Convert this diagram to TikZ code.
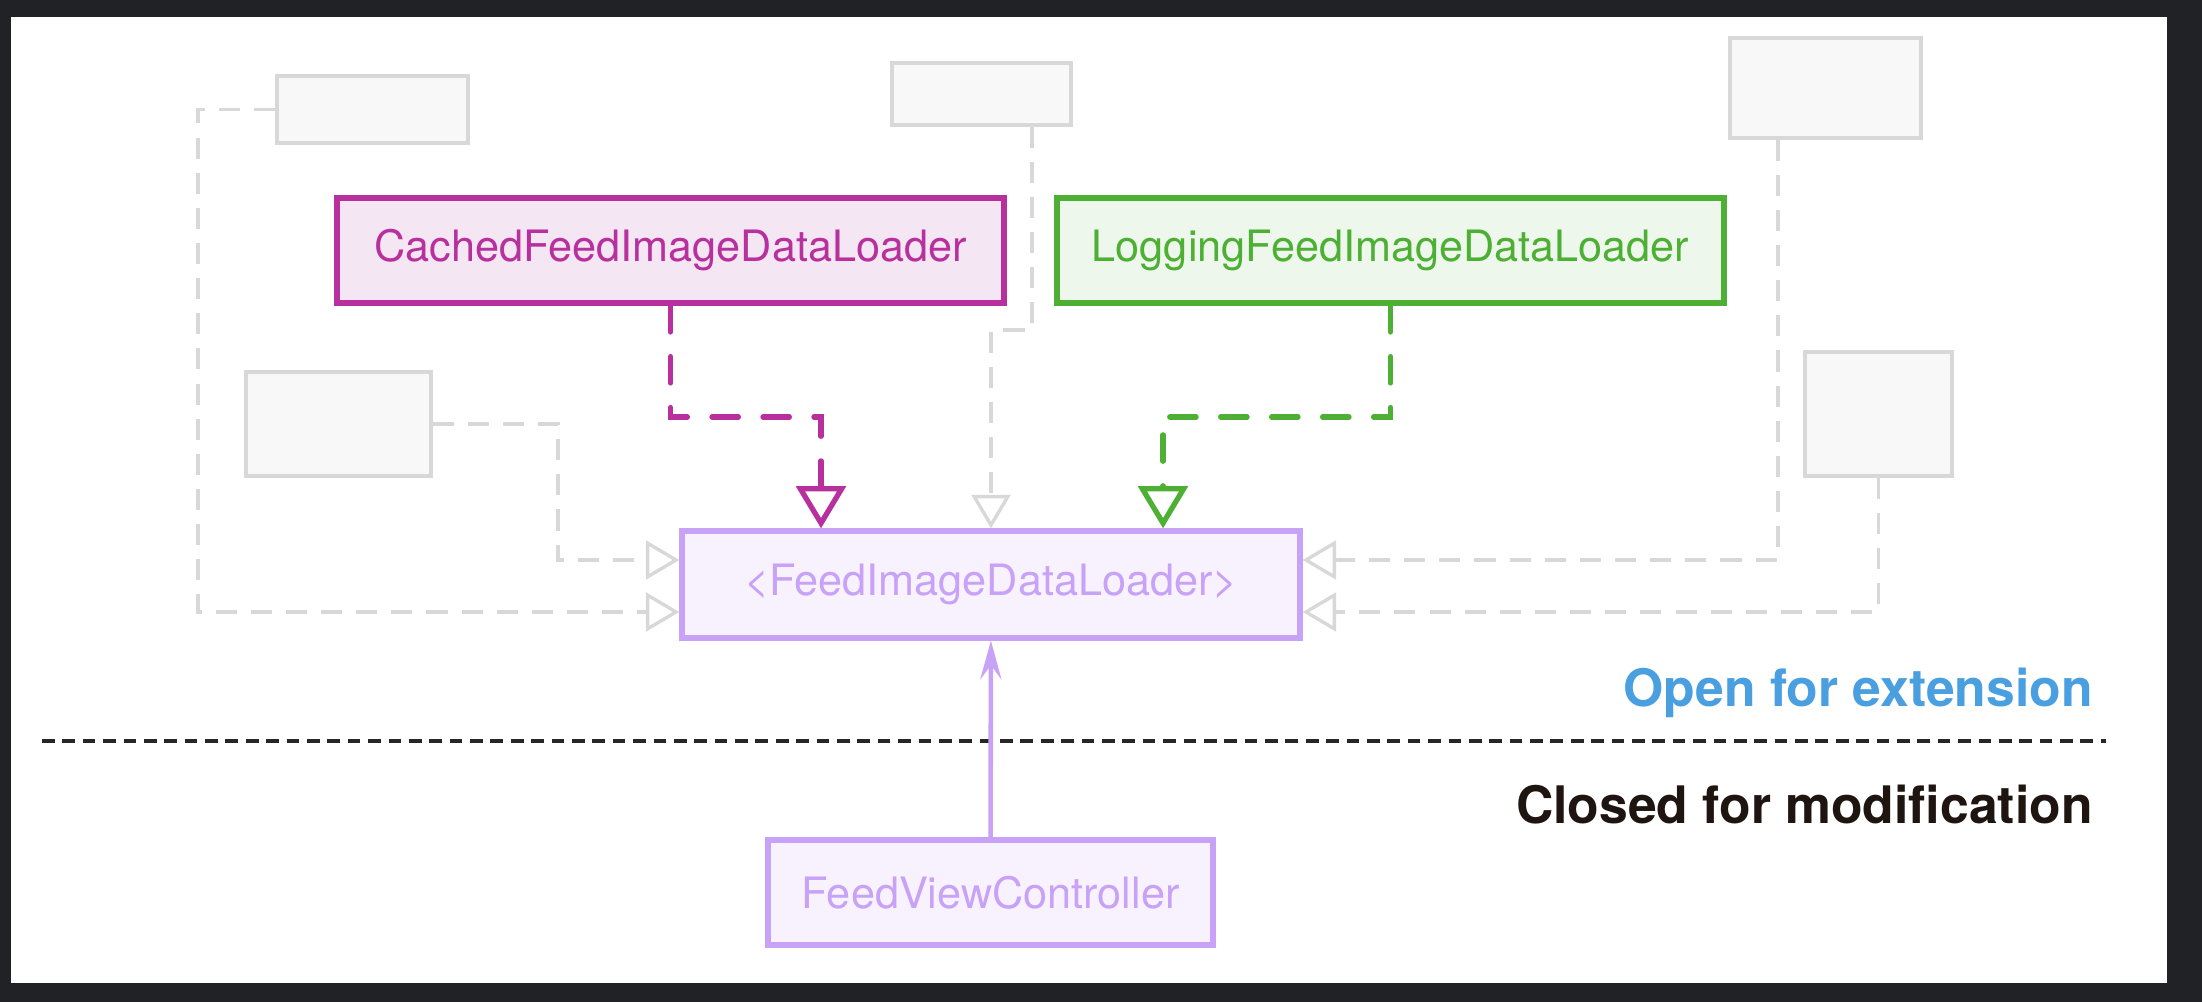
\documentclass[tikz,border=0pt]{standalone}
\usepackage{fontspec}
\setmainfont{TeX Gyre Heros}
\usetikzlibrary{arrows.meta}
\definecolor{framec}{HTML}{202226}
\definecolor{cachedc}{HTML}{B8309E}
\definecolor{cachedf}{HTML}{F4E6F3}
\definecolor{loggingc}{HTML}{4DB034}
\definecolor{loggingf}{HTML}{EEF7EC}
\definecolor{protoc}{HTML}{C8A2F7}
\definecolor{protof}{HTML}{F8F2FE}
\definecolor{greyc}{HTML}{D8D8D8}
\definecolor{greyf}{HTML}{F8F8F8}
\definecolor{openc}{HTML}{4A9FE0}
\definecolor{closedc}{HTML}{1E1410}

\begin{document}
\begin{tikzpicture}[
  box/.style={draw,line width=1.5pt,minimum height=1.05cm,inner sep=0pt,font=\fontsize{12.3}{14}\selectfont},
  greybox/.style={draw=greyc,fill=greyf,line width=0.9pt,inner sep=0pt},
  greyline/.style={greyc,line width=0.95pt,dash pattern=on 6pt off 4pt,-{Triangle[open,length=9.5pt,width=11pt]}},
  implline/.style={line width=1.5pt,line cap=round,dash pattern=on 7.5pt off 7pt,-{Triangle[open,length=12pt,width=14pt]}},
  label/.style={anchor=east,font=\fontsize{14.7}{17}\selectfont\bfseries}]
  \useasboundingbox[fill=framec](0,0)rectangle(22.02,10.02);
  \fill[white](0.11,0.19)rectangle(21.67,9.85);
  \foreach\n/\x/\y/\w/\h in {tl/3.725/8.925/1.91/0.67,tm/9.815/9.08/1.79/0.62,tr/18.255/9.14/1.91/1.00,
                             ml/3.385/5.78/1.85/1.04,mr/18.785/5.88/1.47/1.24}
     \node[greybox,minimum width=\w cm,minimum height=\h cm](\n)at(\x,\y){};
  \node[box,draw=cachedc,fill=cachedf,text=cachedc,minimum width=6.67cm](cached)at(6.705,7.515){CachedFeedImageDataLoader};
  \node[box,draw=loggingc,fill=loggingf,text=loggingc,minimum width=6.67cm](logging)at(13.905,7.515){LoggingFeedImageDataLoader};
  \node[box,draw=protoc,fill=protof,text=protoc,minimum width=6.18cm,minimum height=1.07cm](loader)at(9.91,4.175){<FeedImageDataLoader>};
  \node[box,draw=protoc,fill=protof,text=protoc,minimum width=4.45cm](controller)at(9.905,1.095){FeedViewController};
  \coordinate(tlbend)at(1.98,3.90);
  \coordinate(tmbend)at(10.32,6.72);
  \coordinate(mlbend)at(5.58,4.42);
  \coordinate(trbend)at(17.78,4.42);
  \coordinate(cachedbend)at(8.21,5.85);
  \coordinate(loggingbend)at(11.63,5.85);
  \draw[greyline](tl.west)-|(tlbend)--(tlbend-|loader.west);
  \draw[greyline](ml.east)-|(mlbend)--(mlbend-|loader.west);
  \draw[greyline](tmbend|-tm.south)--(tmbend)-|(loader.north);
  \draw[greyline](trbend|-tr.south)--(trbend)--(trbend-|loader.east);
  \draw[greyline](mr.south)|-(tlbend-|loader.east);
  \draw[implline,cachedc](cached.south)|-(cachedbend)--(cachedbend|-loader.north);
  \draw[implline,loggingc](logging.south)|-(loggingbend)--(loggingbend|-loader.north);
  \coordinate(divl)at(0.42,2.61);
  \coordinate(divr)at(21.06,2.61);
  \draw[black!85,line width=1.1pt,dash pattern=on 3.6pt off 2.2pt](divl)--(divr);
  \draw[protoc,line width=1.3pt,-{Stealth[length=11pt,width=6pt,inset=4pt]}](controller)--(loader);
  \node[label,text=openc](open)at(21.05,3.09){Open for extension};
  \node[label,text=closedc](closed)at(21.05,1.97){Closed for modification};
\end{tikzpicture}
\end{document}
